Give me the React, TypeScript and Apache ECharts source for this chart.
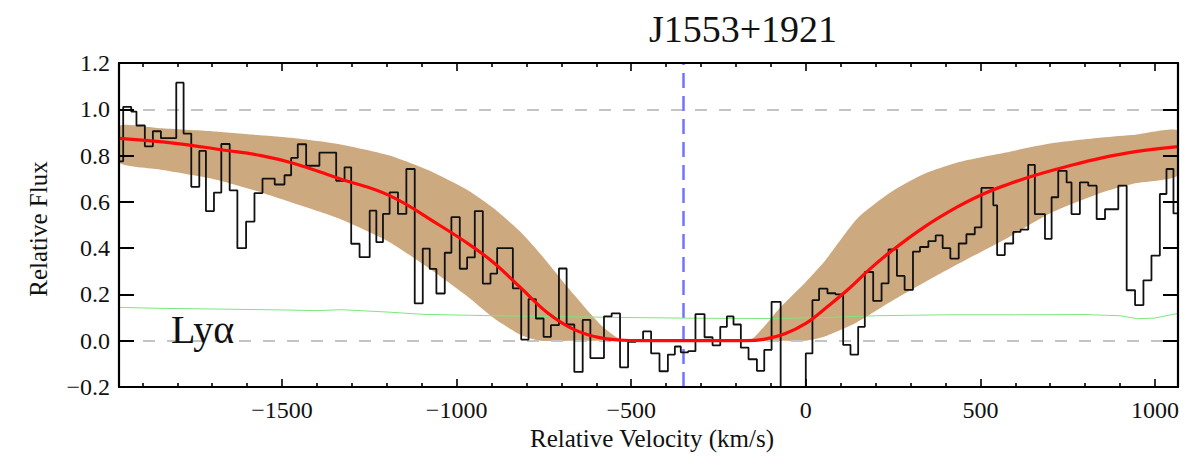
import React, { useEffect, useRef } from 'react';
import * as echarts from 'echarts';

const TITLE = 'J1553+1921';
const LINE_LABEL = 'Ly\u03b1';
const X_NAME = 'Relative Velocity (km/s)';
const Y_NAME = 'Relative Flux';

const X_MIN = -1967;
const X_MAX = 1066;
const Y_MIN = -0.2;
const Y_MAX = 1.2;
const Y_STEP = 0.2;
const SYSTEMIC_VELOCITY = -350;
const REFERENCE_LEVELS = [1.0, 0.0];

const majorVelocityTicks = [-1500, -1000, -500, 0, 500, 1000];
const minorVelocityTicks = [
  -1900, -1800, -1700, -1600, -1400, -1300, -1200, -1100, -900, -800, -700, -600,
  -400, -300, -200, -100, 100, 200, 300, 400, 600, 700, 800, 900,
];

// observed spectrum: bin left edges (last entry = right edge of final bin)
const velocityEdges = [
  -1967, -1955, -1932, -1917, -1893, -1870, -1847, -1825, -1803, -1782,
  -1760, -1737, -1718, -1695, -1674, -1650, -1628, -1603, -1579, -1556,
  -1538, -1521, -1493, -1474, -1455, -1431, -1412, -1393, -1369, -1345,
  -1321, -1302, -1278, -1249, -1230, -1211, -1192, -1168, -1144, -1120,
  -1097, -1077, -1058, -1034, -1015, -991, -970, -948, -925, -903,
  -884, -862, -839, -815, -794, -773, -751, -730, -707, -685,
  -663, -639, -617, -597, -578, -556, -532, -509, -487, -466,
  -443, -419, -395, -375, -358, -337, -316, -290, -267, -245,
  -226, -207, -186, -164, -140, -119, -98, -72, -50, -26,
  0, 19, 38, 62, 85, 107, 128, 150, 169, 193,
  217, 237, 261, 283, 307, 327, 351, 372, 392, 414,
  438, 460, 484, 503, 537, 548, 570, 594, 615, 637,
  656, 685, 704, 723, 747, 761, 785, 809, 833, 857,
  876, 895, 919, 943, 967, 990, 1014, 1033, 1053, 1066,
];
const observedFlux = [
  0.775, 1.01, 0.99, 0.93, 0.84, 0.905, 0.875, 0.875, 1.115, 0.895,
  0.665, 0.82, 0.56, 0.64, 0.85, 0.65, 0.40, 0.515, 0.638, 0.70,
  0.70, 0.675, 0.715, 0.79, 0.849, 0.756, 0.756, 0.813, 0.813, 0.691,
  0.749, 0.419, 0.361, 0.562, 0.426, 0.548, 0.641, 0.548, 0.742, 0.161,
  0.398, 0.31, 0.204, 0.38, 0.534, 0.311, 0.36, 0.56, 0.247, 0.29,
  0.40, 0.40, 0.226, 0.005, 0.18, 0.096, 0.017, 0.067, 0.312, 0.07,
  -0.135, 0.09, -0.075, -0.075, 0.105, 0.118, -0.115, -0.005, 0.0, 0.04,
  -0.055, -0.132, -0.06, -0.025, -0.05, -0.045, 0.115, 0.015, -0.02, 0.06,
  0.105, 0.07, -0.03, -0.08, -0.13, -0.04, 0.168, -0.26, -0.3, -0.3,
  -0.055, 0.175, 0.225, 0.205, 0.20, -0.018, -0.06, 0.06, 0.297, 0.172,
  0.248, 0.395, 0.28, 0.22, 0.385, 0.405, 0.43, 0.455, 0.40, 0.355,
  0.42, 0.46, 0.49, 0.66, 0.585, 0.37, 0.42, 0.47, 0.48, 0.76,
  0.547, 0.44, 0.62, 0.734, 0.684, 0.547, 0.684, 0.67, 0.526, 0.568,
  0.568, 0.67, 0.218, 0.154, 0.261, 0.368, 0.634, 0.742, 0.55,
];

// best-fit model profile
const modelVelocity = [
  -1967, -1800, -1664, -1560, -1468, -1335, -1192, -1050, -958, -892,
  -816, -739, -663, -587, -520, -450, -300, -172, -120, -60,
  0, 60, 120, 180, 243, 338, 434, 510, 572, 657,
  753, 848, 944, 1066,
];
const modelFlux = [
  0.874, 0.852, 0.823, 0.80, 0.767, 0.70, 0.627, 0.50, 0.41, 0.335,
  0.228, 0.12, 0.048, 0.012, 0.002, 0, 0, 0, 0.006, 0.03,
  0.075, 0.145, 0.22, 0.305, 0.385, 0.49, 0.578, 0.635, 0.672, 0.715,
  0.755, 0.79, 0.817, 0.839,
];

// model uncertainty envelope
const bandVelocity = [
  -1967, -1850, -1700, -1580, -1468, -1335, -1192, -1077, -968, -892,
  -816, -760, -663, -587, -529, -450, -300, -162, -120, -76,
  0, 52, 147, 243, 338, 434, 572, 699, 848, 944, 1066,
];
const bandUpper = [
  0.928, 0.918, 0.905, 0.89, 0.876, 0.849, 0.80, 0.734, 0.65, 0.57,
  0.469, 0.375, 0.197, 0.068, 0.005, 0, 0, 0, 0.06, 0.139,
  0.254, 0.34, 0.527, 0.641, 0.72, 0.77, 0.813, 0.852, 0.878, 0.89, 0.907,
];
const bandLower = [
  0.77, 0.74, 0.70, 0.65, 0.595, 0.527, 0.426, 0.311, 0.19, 0.096,
  0.025, 0.0, 0, 0, 0, 0, 0, 0, 0, 0,
  0, 0.017, 0.08, 0.168, 0.25, 0.33, 0.44, 0.55, 0.64, 0.68, 0.715,
];

// flux error spectrum
const errorVelocity = [
  -1967, -1850, -1700, -1500, -1400, -1330, -1200, -1096, -900, -700,
  -500, -300, -100, 50, 200, 400, 600, 800, 900, 950, 1000, 1066,
];
const errorFlux = [
  0.144, 0.14, 0.137, 0.133, 0.13, 0.134, 0.124, 0.114, 0.108, 0.104,
  0.10, 0.097, 0.096, 0.10, 0.108, 0.112, 0.112, 0.113, 0.108, 0.095, 0.098, 0.118,
];

const FONT = "'Liberation Serif', 'DejaVu Serif', serif";
const TEXT = '#111111';
const BAND = '#cda97f';

const minus = (s: string) => s.replace('-', '\u2212');

export default function App() {
  const ref = useRef<HTMLDivElement>(null);

  useEffect(() => {
    if (!ref.current) return;
    const chart = echarts.init(ref.current, undefined, { renderer: 'svg' });

    const histData: number[][] = [];
    for (let i = 0; i < observedFlux.length; i++) histData.push([velocityEdges[i], observedFlux[i]]);
    histData.push([velocityEdges[observedFlux.length], observedFlux[observedFlux.length - 1]]);

    const modelData = modelVelocity.map((v, i) => [v, modelFlux[i]]);
    const errorData = errorVelocity.map((v, i) => [v, errorFlux[i]]);

    const xBase = (position: 'top' | 'bottom', ticks: number[], len: number, labels: boolean, line: boolean) => ({
      type: 'value',
      position,
      min: X_MIN,
      max: X_MAX,
      splitLine: { show: false },
      axisLine: { show: line, onZero: false, lineStyle: { color: '#000', width: 2.2 } },
      axisTick: { show: true, inside: true, length: len, customValues: ticks, lineStyle: { color: '#000', width: 1.6 } },
      axisLabel: labels
        ? { show: true, customValues: ticks, formatter: (v: number) => minus(String(v)), fontFamily: FONT, fontSize: 24, color: TEXT, margin: 11 }
        : { show: false },
      z: 10,
    });

    const yBase = (position: 'left' | 'right', labels: boolean) => ({
      type: 'value',
      position,
      min: Y_MIN,
      max: Y_MAX,
      interval: Y_STEP,
      splitLine: { show: false },
      axisLine: { show: true, onZero: false, lineStyle: { color: '#000', width: 2.2 } },
      axisTick: { show: true, inside: true, length: 15, lineStyle: { color: '#000', width: 2 } },
      axisLabel: labels
        ? { show: true, formatter: (v: number) => minus((Math.round(v * 10) / 10).toFixed(1)), fontFamily: FONT, fontSize: 24, color: TEXT, margin: 9 }
        : { show: false },
      z: 10,
    });

    chart.setOption({
      animation: false,
      backgroundColor: '#ffffff',
      grid: { left: 119, right: 24, top: 63, bottom: 69, containLabel: false },
      xAxis: [
        xBase('bottom', majorVelocityTicks, 8, true, true),
        xBase('bottom', minorVelocityTicks, 4, false, false),
        xBase('top', majorVelocityTicks, 8, false, true),
        xBase('top', minorVelocityTicks, 4, false, false),
      ],
      yAxis: [yBase('left', true), yBase('right', false)],
      graphic: [
        { type: 'text', x: 743, y: 29, style: { text: TITLE, font: `38px ${FONT}`, fill: TEXT, align: 'center', verticalAlign: 'middle' } },
        { type: 'text', x: 171, y: 329, z: 20, style: { text: LINE_LABEL, font: `40px ${FONT}`, fill: TEXT, align: 'left', verticalAlign: 'middle' } },
        { type: 'text', x: 652, y: 438, style: { text: X_NAME, font: `25px ${FONT}`, fill: TEXT, align: 'center', verticalAlign: 'middle' } },
        { type: 'text', x: 38, y: 229, rotation: Math.PI / 2, style: { text: Y_NAME, font: `25px ${FONT}`, fill: TEXT, align: 'center', verticalAlign: 'middle' } },
      ],
      series: [
        {
          type: 'custom',
          name: 'envelope',
          xAxisIndex: 0,
          yAxisIndex: 0,
          silent: true,
          clip: true,
          z: 1,
          data: [[bandVelocity[0], bandUpper[0]]],
          renderItem: (_params: any, api: any) => {
            const top = bandVelocity.map((v, i) => api.coord([v, bandUpper[i]]));
            const bottom = bandVelocity.map((v, i) => api.coord([v, bandLower[i]])).reverse();
            return {
              type: 'polygon',
              shape: { points: top.concat(bottom), smooth: 0.2 },
              style: { fill: BAND, lineWidth: 0 },
            };
          },
        },
        {
          type: 'line',
          name: 'error',
          data: errorData,
          symbol: 'none',
          smooth: false,
          lineStyle: { color: '#7ae87a', width: 1 },
          z: 2,
          silent: true,
          markLine: {
            silent: true,
            symbol: 'none',
            z: 2,
            label: { show: false },
            data: [
              ...REFERENCE_LEVELS.map((y) => ({ yAxis: y, lineStyle: { color: '#c4c4c4', width: 2, type: [12, 12] } })),
              { xAxis: SYSTEMIC_VELOCITY, lineStyle: { color: '#7373ff', width: 2.5, type: [15, 8] } },
            ],
          },
        },
        {
          type: 'line',
          name: 'flux',
          data: histData,
          step: 'end',
          symbol: 'none',
          clip: true,
          lineStyle: { color: '#111111', width: 1.8 },
          z: 3,
          silent: true,
        },
        {
          type: 'line',
          name: 'model',
          data: modelData,
          symbol: 'none',
          smooth: 0.4,
          lineStyle: { color: '#ff0a0a', width: 3.2 },
          z: 4,
          silent: true,
        },
      ],
    });

    return () => chart.dispose();
  }, []);

  return <div ref={ref} style={{ position: 'absolute', left: 0, top: 0, width: 1202, height: 456, background: '#fff' }} />;
}
